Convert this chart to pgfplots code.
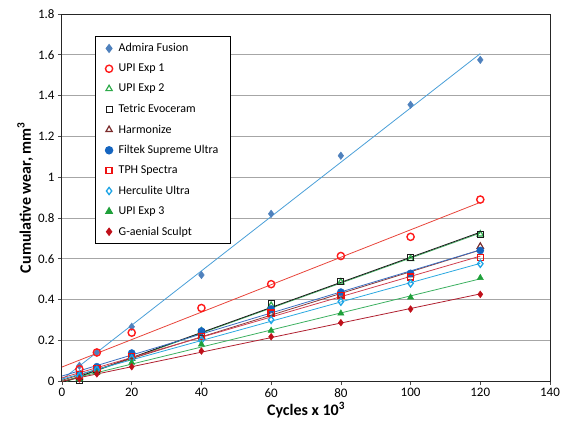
\documentclass[border=0pt]{standalone}
\usepackage{pgfplots}
\pgfplotsset{compat=1.18}
\usepackage{pgfplotstable}
\usepackage{fontspec}
\setmainfont{Carlito}
\definecolor{cAdm}{HTML}{4F81BD}
\definecolor{lAdm}{HTML}{4A9FD8}
\definecolor{cUa}{HTML}{FF1A1A}
\definecolor{lUa}{HTML}{E8443A}
\definecolor{cUb}{HTML}{2EAA4A}
\definecolor{lUb}{HTML}{3FAF5F}
\definecolor{cTet}{HTML}{1A1A1A}
\definecolor{cHar}{HTML}{7B2C2C}
\definecolor{lHar}{HTML}{8B3A3A}
\definecolor{cFil}{HTML}{1565C0}
\definecolor{lFil}{HTML}{3A6FC0}
\definecolor{cTph}{HTML}{EE1111}
\definecolor{lTph}{HTML}{D04050}
\definecolor{cHer}{HTML}{1EA5E6}
\definecolor{lHer}{HTML}{2AA8E0}
\definecolor{cUc}{HTML}{1FA03A}
\definecolor{lUc}{HTML}{3CB060}
\definecolor{cGae}{HTML}{C0101A}
\definecolor{lGae}{HTML}{B02030}
\pgfplotstableread{
x   admira upia  upib  tetric harm filtek tph   herc  upic  gaen
5   0.075  0.058 0.010 0.005  0.020 0.030 0.030 0.025 0.010 0.010
10  0.140  0.140 0.050 0.055  0.060 0.070 0.060 0.055 0.040 0.035
20  0.266  0.237 0.110 0.120  0.120 0.137 0.120 0.110 0.090 0.070
40  0.520  0.358 0.245 0.240  0.220 0.245 0.217 0.200 0.180 0.147
60  0.820  0.475 0.370 0.380  0.330 0.353 0.333 0.300 0.247 0.217
80  1.105  0.613 0.485 0.487  0.420 0.436 0.420 0.389 0.332 0.286
100 1.355  0.707 0.600 0.605  0.520 0.528 0.510 0.479 0.410 0.353
120 1.575  0.890 0.720 0.720  0.660 0.640 0.605 0.575 0.506 0.425
}\data
\newcommand\fit[1]{%
  \pgfplotstablecreatecol[linear regression={y=#1}]{fit#1}\data
  \expandafter\xdef\csname a#1\endcsname{\pgfplotstableregressiona}%
  \expandafter\xdef\csname b#1\endcsname{\pgfplotstableregressionb}%
  \pgfmathsetmacro\tmpe{120*\csname a#1\endcsname+\csname b#1\endcsname}%
  \expandafter\xdef\csname e#1\endcsname{\tmpe}%
  \pgfmathsetmacro\tmpb{\csname b#1\endcsname}%
  \expandafter\xdef\csname b#1\endcsname{\tmpb}%
}
\fit{admira}\fit{upia}\fit{upib}\fit{tetric}\fit{harm}
\fit{filtek}\fit{tph}\fit{herc}\fit{upic}\fit{gaen}
\newcommand\trend[2]{\addplot[#2, line width=0.8pt, forget plot] coordinates {(0,\csname b#1\endcsname) (120,\csname e#1\endcsname)};}
\begin{document}
\begin{tikzpicture}
\useasboundingbox (-62pt,-51pt) rectangle (508pt,381pt);
\begin{axis}[
  scale only axis, width=488pt, height=367pt,
  xmin=0, xmax=140, ymin=0, ymax=1.8,
  xtick={0,20,...,140}, ytick={0,0.2,...,1.8},
  yticklabels={0,0.2,0.4,0.6,0.8,1,1.2,1.4,1.6,1.8},
  tick align=outside, tick pos=left,
  major tick length=4pt,
  ymajorgrids, grid style={gray!70, line width=0.6pt},
  axis line style={line width=1pt, black!85},
  tick style={black!70, line width=0.6pt},
  ticklabel style={font=\fontsize{13}{15}\selectfont},
  /pgf/number format/assume math mode=true,
  xlabel={\bfseries Cycles x 10\textsuperscript{3}},
  ylabel={\bfseries Cumulative wear, mm\textsuperscript{3}},
  label style={font=\fontsize{16}{18}\selectfont},
  xlabel style={yshift=2pt},
  ylabel style={yshift=-2pt},
  legend cell align=left,
  legend style={at={(0.0676,0.940)}, anchor=north west, draw=black, line width=1pt,
    font=\fontsize{12}{14}\selectfont, row sep=6.8pt, column sep=4pt, inner xsep=10pt, inner ysep=5pt},
  legend image code/.code={\draw[line width=1.2pt,#1] plot coordinates {(0cm,0cm)};},
  mark size=3.6pt,
]
\trend{admira}{lAdm}
\trend{upia}{lUa}
\trend{upib}{lUb}
\trend{tetric}{cTet}
\trend{harm}{lHar}
\trend{filtek}{lFil}
\trend{tph}{lTph}
\trend{herc}{lHer}
\trend{upic}{lUc}
\trend{gaen}{lGae}
\addplot[only marks, mark=diamond*, mark options={fill=cAdm, draw=cAdm, scale=1.05}] table[x=x,y=admira]{\data};
\addlegendentry{Admira Fusion}
\addplot[only marks, mark=o, mark options={draw=cUa, line width=1.4pt}] table[x=x,y=upia]{\data};
\addlegendentry{UPI Exp 1}
\addplot[only marks, mark=triangle, mark options={draw=cUb, line width=1.2pt}] table[x=x,y=upib]{\data};
\addlegendentry{UPI Exp 2}
\addplot[only marks, mark=square, mark options={draw=cTet, line width=1pt, scale=0.85}] table[x=x,y=tetric]{\data};
\addlegendentry{Tetric Evoceram}
\addplot[only marks, mark=triangle, mark options={draw=cHar, line width=1.2pt}] table[x=x,y=harm]{\data};
\addlegendentry{Harmonize}
\addplot[only marks, mark=*, mark options={fill=cFil, draw=cFil}] table[x=x,y=filtek]{\data};
\addlegendentry{Filtek Supreme Ultra}
\addplot[only marks, mark=square, mark options={draw=cTph, line width=1.3pt, scale=0.85}] table[x=x,y=tph]{\data};
\addlegendentry{TPH Spectra}
\addplot[only marks, mark=diamond, mark options={draw=cHer, line width=1.3pt}] table[x=x,y=herc]{\data};
\addlegendentry{Herculite Ultra}
\addplot[only marks, mark=triangle*, mark options={fill=cUc, draw=cUc}] table[x=x,y=upic]{\data};
\addlegendentry{UPI Exp 3}
\addplot[only marks, mark=diamond*, mark options={fill=cGae, draw=cGae, scale=0.95}] table[x=x,y=gaen]{\data};
\addlegendentry{G-aenial Sculpt}
\end{axis}
\end{tikzpicture}
\end{document}
